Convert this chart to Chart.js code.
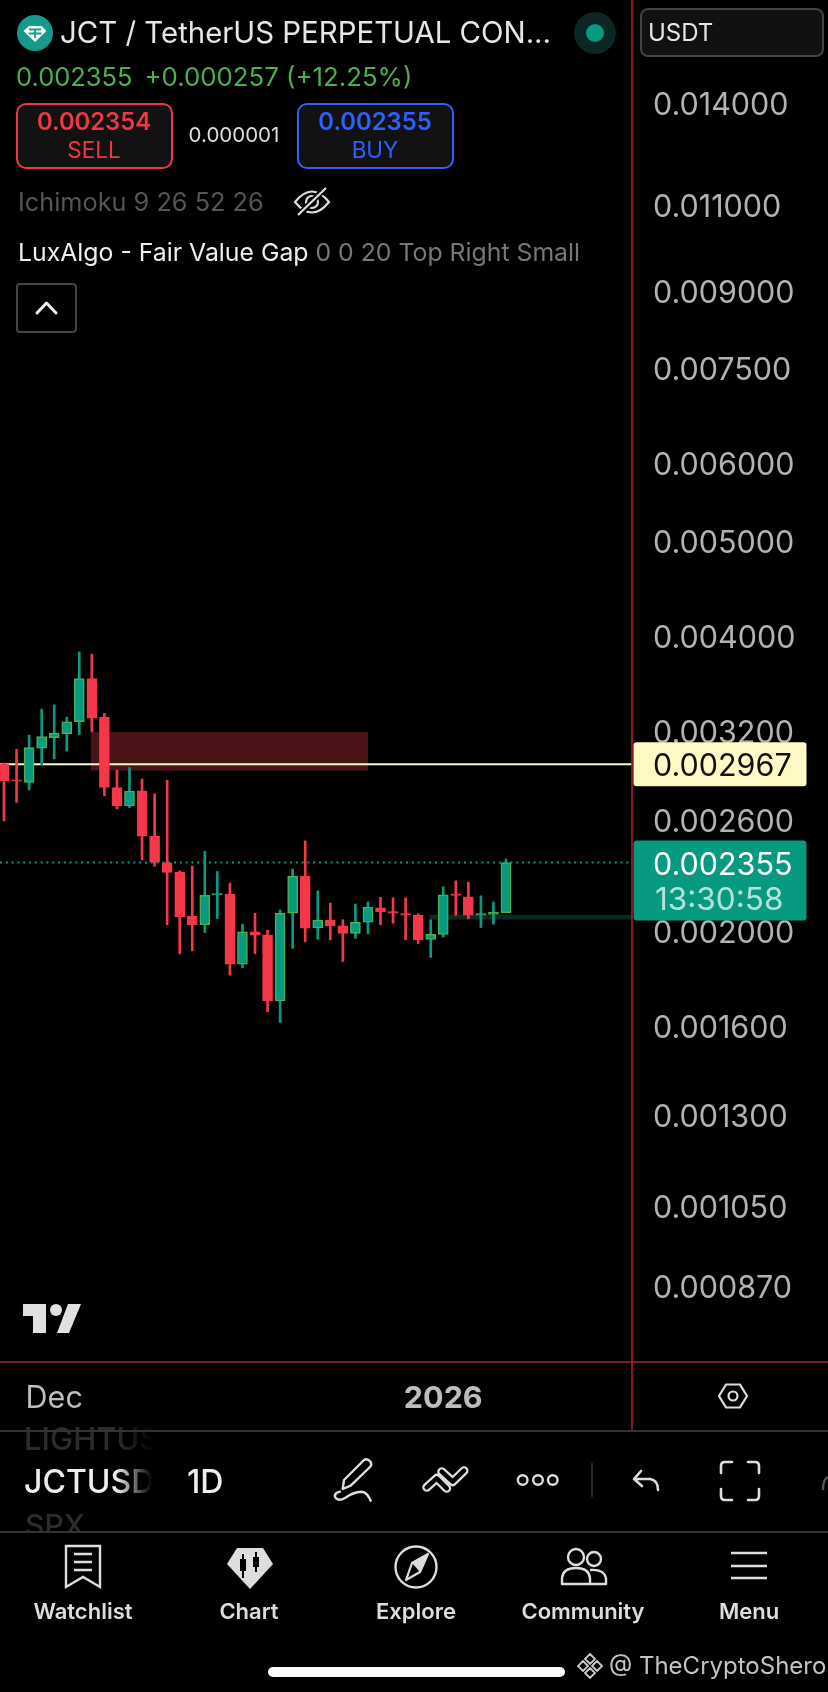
<!DOCTYPE html>
<html>
<head>
<meta charset="utf-8">
<title>JCTUSDT</title>
<script src="https://cdn.jsdelivr.net/npm/chart.js@4"></script>
<style>
  html, body { margin: 0; background: #000; }
  #wrap { position: relative; width: 828px; height: 1692px; overflow: hidden; background: #000; font-family: Inter, sans-serif; }
  #chart { position: absolute; left: 0; top: 0; }
  #icons { position: absolute; left: 0; top: 0; }
  .t { position: absolute; transform: translateY(-50%); white-space: nowrap; line-height: 1; }
  .c { position: absolute; transform: translate(-50%, -50%); white-space: nowrap; line-height: 1; }
  .box { position: absolute; box-sizing: border-box; }
  .nav { font-size: 22px; font-weight: 600; color: #ddd; }
</style>
</head>
<body>
<div id="wrap">
  <canvas id="chart" width="828" height="1692"></canvas>
  <svg id="icons" width="828" height="1692" viewBox="0 0 828 1692" fill="none">
    <!-- symbol logo -->
    <circle cx="35" cy="33" r="18" fill="#14998a"/>
    <path d="M23.5 31L29 26H41.5L46.5 31L35 42Z" fill="#fff"/>
    <path d="M29 29.5H41M35 29.5V38M28.5 33.5H41.5" stroke="#14998a" stroke-width="1.8"/>
    <!-- market status -->
    <circle cx="595" cy="33" r="21" fill="#0a2723"/>
    <circle cx="595" cy="33" r="9" fill="#089981"/>
    <!-- currency chevron -->
    <path d="M806 32L811 37L816 32" stroke="#ddd" stroke-width="2.4" stroke-linecap="round" stroke-linejoin="round"/>
    <!-- hidden indicator eye -->
    <path d="M295 202Q312 181 329 202Q312 223 295 202Z" stroke="#ddd" stroke-width="2.2"/>
    <circle cx="312" cy="202" r="6" stroke="#ddd" stroke-width="2.2"/>
    <path d="M299 215L325 188" stroke="#000" stroke-width="6"/>
    <path d="M298 215L326 188" stroke="#ddd" stroke-width="2.2"/>
    <!-- collapse caret -->
    <path d="M37 313L46.5 303L56 313" stroke="#eee" stroke-width="3" stroke-linecap="round" stroke-linejoin="round"/>
    <!-- tradingview mark -->
    <path d="M23 1304H46V1333H33V1316H23Z" fill="#e0e0e0"/>
    <circle cx="56" cy="1310" r="6" fill="#e0e0e0"/>
    <path d="M68 1304H81L69 1333H57Z" fill="#e0e0e0"/>
    <!-- settings hex -->
    <path d="M719 1396L726 1384.5H740L747 1396L740 1407.5H726Z" stroke="#ddd" stroke-width="2.2"/>
    <circle cx="733" cy="1396" r="4.5" stroke="#ddd" stroke-width="2.2"/>
    <!-- toolbar -->
    <path d="M342.7 1489L344 1480L364 1460Q367 1458 370.7 1462Q372 1465 370 1467L350.7 1485.7Z" stroke="#ddd" stroke-width="2.4" stroke-linejoin="round"/>
    <path d="M340 1491.7Q334 1493 335 1497Q338 1502 345 1498Q353 1492 361.7 1491.7Q367 1492 370.7 1500.7" stroke="#ddd" stroke-width="2.4" stroke-linecap="round"/>
    <path d="M426.7 1487.3L436.7 1478.3L446.7 1488.3M441.7 1471.7L452.7 1481.7L464 1470.7" stroke="#ddd" stroke-width="9" stroke-linecap="round" stroke-linejoin="round"/>
    <path d="M426.7 1487.3L436.7 1478.3L446.7 1488.3M441.7 1471.7L452.7 1481.7L464 1470.7" stroke="#000" stroke-width="4.5" stroke-linecap="round" stroke-linejoin="round"/>
    <circle cx="522.7" cy="1480" r="4.8" stroke="#ddd" stroke-width="2.4"/>
    <circle cx="538" cy="1480" r="4.8" stroke="#ddd" stroke-width="2.4"/>
    <circle cx="552.8" cy="1480" r="4.8" stroke="#ddd" stroke-width="2.4"/>
    <path d="M592 1463V1497" stroke="#333" stroke-width="1.5"/>
    <path d="M641 1471L634 1479L642 1486M634 1479H650Q658 1480 658 1490" stroke="#ddd" stroke-width="2.6" stroke-linecap="round" stroke-linejoin="round"/>
    <path d="M721 1473V1466Q721 1462 725 1462H732M748 1462H755Q759 1462 759 1466V1473M759 1489V1496Q759 1500 755 1500H748M732 1500H725Q721 1500 721 1496V1489" stroke="#ddd" stroke-width="2.6" stroke-linecap="round"/>
    <path d="M828 1477Q823 1479 823 1490" stroke="#555" stroke-width="2.4"/>
    <!-- bottom nav -->
    <path d="M66 1546H100V1587L83 1577L66 1587Z" stroke="#ddd" stroke-width="2.4"/>
    <path d="M74 1554H92M74 1562H92M74 1570H92" stroke="#ddd" stroke-width="2.4"/>
    <path d="M237 1548H263L273 1564L250 1589L227 1564Z" fill="#ddd"/>
    <path d="M243 1554V1578M256 1552V1572" stroke="#000" stroke-width="2"/>
    <rect x="240" y="1559" width="6" height="12" fill="#000"/>
    <rect x="253" y="1557" width="6" height="10" fill="#000"/>
    <circle cx="416" cy="1567" r="20.5" stroke="#ddd" stroke-width="2.4"/>
    <path d="M428 1554L420 1572L406 1580L412 1563Z" stroke="#ddd" stroke-width="2.2" stroke-linejoin="round"/>
    <path d="M412 1563L420 1572L428 1554Z" fill="#ddd"/>
    <circle cx="576" cy="1557" r="8" stroke="#ddd" stroke-width="2.4"/>
    <circle cx="594" cy="1559" r="7" stroke="#ddd" stroke-width="2.4"/>
    <path d="M562 1584V1578Q563 1568 576 1568Q589 1568 590 1578V1584Z" stroke="#ddd" stroke-width="2.4" stroke-linejoin="round"/>
    <path d="M590 1570Q604 1569 606 1578V1584H590" stroke="#ddd" stroke-width="2.4" stroke-linejoin="round"/>
    <path d="M731 1553H767M731 1566H767M731 1578H767" stroke="#ddd" stroke-width="2.6"/>
    <!-- watermark diamond -->
    <path d="M590 1654L595 1659L590 1664L585 1659ZM590 1668L595 1673L590 1678L585 1673ZM583 1661L588 1666L583 1671L578 1666ZM597 1661L602 1666L597 1671L592 1666Z" stroke="#ccc" stroke-width="1.8"/>
  </svg>

  <!-- header -->
  <div class="t" style="left:60px;top:33px;font-size:29.4px;color:#e6e6e6;">JCT / TetherUS PERPETUAL CON...</div>
  <div class="t" style="left:16px;top:77px;font-size:25.5px;color:#4caf50;">0.002355</div>
  <div class="t" style="left:144.5px;top:77px;font-size:25.8px;color:#4caf50;">+0.000257 (+12.25%)</div>

  <div class="box" style="left:16px;top:103px;width:157px;height:66px;border:2px solid #f23645;border-radius:10px;background:#121212;"></div>
  <div class="c" style="left:94px;top:122px;font-size:23.8px;font-weight:600;color:#f23645;">0.002354</div>
  <div class="c" style="left:94px;top:150px;font-size:22.5px;color:#f23645;">SELL</div>
  <div class="c" style="left:234px;top:135px;font-size:20.5px;color:#ddd;">0.000001</div>
  <div class="box" style="left:297px;top:103px;width:157px;height:66px;border:2px solid #2962ff;border-radius:10px;background:#121212;"></div>
  <div class="c" style="left:375px;top:122px;font-size:23.8px;font-weight:600;color:#2962ff;">0.002355</div>
  <div class="c" style="left:375px;top:150px;font-size:22.5px;color:#2962ff;">BUY</div>

  <div class="t" style="left:18px;top:202px;font-size:25.3px;color:#555;">Ichimoku 9 26 52 26</div>
  <div class="t" style="left:18px;top:252px;font-size:24.8px;color:#eee;">LuxAlgo - Fair Value Gap <span style="color:#777;">0 0 20 Top Right Small</span></div>
  <div class="box" style="left:16px;top:283px;width:61px;height:50px;border:2px solid #444;border-radius:4px;"></div>

  <div class="box" style="left:640px;top:8px;width:184px;height:49px;border:2px solid #444;border-radius:8px;background:#111;"></div>
  <div class="t" style="left:648px;top:33px;font-size:24px;color:#e6e6e6;">USDT</div>

  <!-- symbol strip -->
  <div class="t" style="left:24px;top:1438px;font-size:31px;font-weight:500;color:#2c2c2c;width:132px;overflow:hidden;-webkit-mask-image:linear-gradient(90deg,#000 70%,transparent);">LIGHTUSDT</div>
  <div class="t" style="left:24px;top:1482px;font-size:32px;font-weight:500;color:#eee;width:128px;overflow:hidden;-webkit-mask-image:linear-gradient(90deg,#000 72%,transparent);">JCTUSDT</div>
  <div class="t" style="left:187px;top:1482px;font-size:32px;font-weight:500;color:#eee;">1D</div>
  <div class="box" style="left:0;top:1511px;width:200px;height:20px;overflow:hidden;"><div style="position:absolute;left:25px;top:-1px;font-size:30px;line-height:1;font-weight:500;color:#2c2c2c;">SPX</div></div>
  <div class="box" style="left:0;top:1430px;width:828px;height:1.5px;background:#333;"></div>
  <div class="box" style="left:0;top:1531px;width:828px;height:1.5px;background:#333;"></div>

  <!-- bottom nav -->
  <div class="c nav" style="left:83px;top:1611px;">Watchlist</div>
  <div class="c nav" style="left:249px;top:1611px;">Chart</div>
  <div class="c nav" style="left:416px;top:1611px;">Explore</div>
  <div class="c nav" style="left:583px;top:1611px;">Community</div>
  <div class="c nav" style="left:749px;top:1611px;">Menu</div>
  <div class="box" style="left:268px;top:1667px;width:297px;height:10px;border-radius:5px;background:#fff;"></div>
  <div class="t" style="left:609px;top:1666px;font-size:24px;color:#c4c4c4;">@ TheCryptoShero</div>
</div>

<script>
// daily candles, Nov 27 to Jan 6
const opens = [0.002969, 0.002860, 0.002842, 0.003081, 0.003158, 0.003188, 0.003279, 0.003627, 0.003313, 0.002809,
  0.002690, 0.002787, 0.002505, 0.002353, 0.002302, 0.002076, 0.002035, 0.002183, 0.002186, 0.001855,
  0.002001, 0.001987, 0.001702, 0.002091, 0.002281, 0.002020, 0.002057, 0.002030, 0.001994, 0.002047,
  0.002117, 0.002099, 0.002089, 0.002081, 0.001966, 0.001989, 0.002188, 0.002173, 0.002081, 0.002085, 0.002094];
const closes = [0.002855, 0.002851, 0.003085, 0.003166, 0.003191, 0.003277, 0.003627, 0.003305, 0.002809, 0.002690,
  0.002785, 0.002505, 0.002357, 0.002301, 0.002073, 0.002035, 0.002181, 0.002190, 0.001855, 0.002001,
  0.001986, 0.001702, 0.002091, 0.002281, 0.002019, 0.002057, 0.002030, 0.001994, 0.002047, 0.002121,
  0.002098, 0.002091, 0.002081, 0.001964, 0.001990, 0.002183, 0.002180, 0.002081, 0.002089, 0.002096, 0.002355];
const highs = [0.002974, 0.003073, 0.003176, 0.003376, 0.003410, 0.003313, 0.003862, 0.003841, 0.003344, 0.002925,
  0.002944, 0.002866, 0.002767, 0.002857, 0.002310, 0.002335, 0.002419, 0.002306, 0.002244, 0.002038,
  0.002091, 0.002009, 0.002107, 0.002319, 0.002478, 0.002204, 0.002141, 0.002059, 0.002137, 0.002147,
  0.002171, 0.002168, 0.002168, 0.002088, 0.002059, 0.002225, 0.002256, 0.002249, 0.002178, 0.002147, 0.002376];
const lows = [0.002597, 0.002713, 0.002793, 0.002962, 0.003004, 0.003059, 0.003181, 0.003201, 0.002754, 0.002671,
  0.002680, 0.002370, 0.002335, 0.002035, 0.001901, 0.001914, 0.001998, 0.002065, 0.001808, 0.001839,
  0.001901, 0.001659, 0.001618, 0.001926, 0.001955, 0.001967, 0.001964, 0.001867, 0.001971, 0.001992,
  0.002035, 0.002042, 0.001964, 0.001946, 0.001885, 0.001977, 0.002080, 0.002064, 0.002022, 0.002038, 0.002094];

const priceTicks = [0.014, 0.011, 0.009, 0.0075, 0.006, 0.005, 0.004, 0.0032, 0.0026, 0.002, 0.0016, 0.0013, 0.00105, 0.00087];
const timeTickIndex = [4, 35];
const timeTickLabels = ['Dec', '2026'];

const alertPrice = 0.002967;
const lastPrice = 0.002355;
const countdown = '13:30:58';

// fair value gaps: first candle, last candle, top price, bottom price
const gapStart = [6.93, 33.9];
const gapEnd = [29, 50.1];
const gapTop = [0.00320, 0.002083];
const gapBottom = [0.002923, 0.002060];
const gapColor = ['#4a1318', '#0c2a22'];

const RED = '#f5374a';
const TEAL = '#089981';
const GREEN = '#4caf50';
const FONT = 'Inter, sans-serif';
const X_MIN = -0.319, X_MAX = 50.04;
const Y_MIN = 0.000729, Y_MAX = 0.017846;

const isUp = opens.map((o, i) => closes[i] >= o);

const gapsAndFrame = {
  id: 'gapsAndFrame',
  beforeDatasetsDraw(chart) {
    const { ctx, chartArea, scales: { x, y } } = chart;
    ctx.save();
    gapStart.forEach((s, i) => {
      const x0 = x.getPixelForValue(s);
      const x1 = Math.min(x.getPixelForValue(gapEnd[i]), chartArea.right);
      const y0 = y.getPixelForValue(gapTop[i]);
      const y1 = y.getPixelForValue(gapBottom[i]);
      ctx.fillStyle = gapColor[i];
      ctx.fillRect(x0, y0, x1 - x0, y1 - y0);
    });
    ctx.restore();
  },
  afterDraw(chart) {
    const { ctx, chartArea, scales: { y } } = chart;
    const left = chartArea.right + 1.5;
    const w = 173;
    ctx.save();
    // axis frame
    ctx.strokeStyle = '#a3222c';
    ctx.lineWidth = 1.6;
    ctx.beginPath();
    ctx.moveTo(chartArea.right, 0);
    ctx.lineTo(chartArea.right, 1430);
    ctx.moveTo(0, chartArea.bottom);
    ctx.lineTo(828, chartArea.bottom);
    ctx.stroke();
    ctx.textBaseline = 'middle';
    ctx.textAlign = 'left';
    // alert tag
    const ya = y.getPixelForValue(alertPrice);
    ctx.fillStyle = '#fff9c4';
    ctx.beginPath();
    ctx.roundRect(left, ya - 22, w, 44, 3);
    ctx.fill();
    ctx.fillStyle = '#111';
    ctx.font = '30.5px ' + FONT;
    ctx.fillText(alertPrice.toFixed(6), 653, ya + 3);
    // last price tag
    const yl = y.getPixelForValue(lastPrice);
    ctx.fillStyle = TEAL;
    ctx.beginPath();
    ctx.roundRect(left, yl - 22, w, 80, 3);
    ctx.fill();
    ctx.fillStyle = '#fff';
    ctx.fillText(lastPrice.toFixed(6), 653, yl + 3);
    ctx.fillStyle = '#b5e2d8';
    ctx.font = '31.5px ' + FONT;
    ctx.fillText(countdown, 655, yl + 38);
    ctx.restore();
  }
};

new Chart(document.getElementById('chart'), {
  type: 'bar',
  plugins: [gapsAndFrame],
  data: {
    datasets: [
      {
        type: 'line',
        data: [{ x: X_MIN, y: alertPrice }, { x: X_MAX, y: alertPrice }],
        borderColor: '#fff9c4',
        borderWidth: 2,
        pointRadius: 0,
        order: 4
      },
      {
        type: 'line',
        data: [{ x: X_MIN, y: lastPrice }, { x: X_MAX, y: lastPrice }],
        borderColor: TEAL,
        borderWidth: 2,
        borderDash: [2, 3.8],
        pointRadius: 0,
        order: 3
      },
      {
        data: highs.map((h, i) => ({ x: i, y: [lows[i], h] })),
        backgroundColor: isUp.map(u => u ? TEAL : RED),
        barThickness: 2,
        grouped: false,
        order: 2
      },
      {
        data: opens.map((o, i) => ({ x: i, y: [Math.min(o, closes[i]), Math.max(o, closes[i])] })),
        backgroundColor: isUp.map(u => u ? TEAL : RED),
        borderColor: isUp.map(u => u ? GREEN : RED),
        borderWidth: 1.5,
        borderSkipped: false,
        barThickness: 10,
        grouped: false,
        order: 1
      }
    ]
  },
  options: {
    responsive: false,
    animation: false,
    layout: { padding: 0, autoPadding: false },
    plugins: { legend: { display: false }, tooltip: { enabled: false } },
    scales: {
      x: {
        type: 'linear',
        min: X_MIN,
        max: X_MAX,
        offset: false,
        grid: { display: false, drawTicks: false },
        border: { display: false },
        afterBuildTicks: s => { s.ticks = timeTickIndex.map(v => ({ value: v })); },
        afterFit: s => { s.height = 330; s.paddingLeft = 0; s.paddingRight = 0; },
        ticks: {
          padding: 19,
          autoSkip: false,
          maxRotation: 0,
          color: '#bdbdbd',
          font: c => ({ family: FONT, size: 30.5, weight: c.tick && c.tick.value === 35 ? 700 : 400 }),
          callback: v => timeTickLabels[timeTickIndex.indexOf(v)]
        }
      },
      y: {
        type: 'logarithmic',
        position: 'right',
        bounds: 'data',
        min: Y_MIN,
        max: Y_MAX,
        grid: { display: false, drawTicks: false },
        border: { display: false },
        afterBuildTicks: s => { s.ticks = priceTicks.map(v => ({ value: v })); },
        afterFit: s => { s.width = 196; s.paddingTop = 0; s.paddingBottom = 0; },
        ticks: {
          padding: 21,
          autoSkip: false,
          crossAlign: 'near',
          color: '#b2b2b2',
          // blank first line with a tiny line height nudges the label 2px down
          font: { family: FONT, size: 30.5, lineHeight: 0.13 },
          callback: v => ['', v.toFixed(6)]
        }
      }
    }
  }
});
</script>
</body>
</html>
